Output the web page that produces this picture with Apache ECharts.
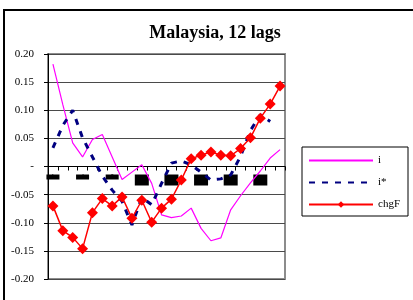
<!DOCTYPE html>
<html>
<head>
<meta charset="utf-8">
<script src="https://cdn.jsdelivr.net/npm/echarts@6/dist/echarts.min.js"></script>
<style>
  html, body { margin: 0; padding: 0; background: #fff; }
  #chart { width: 413px; height: 300px; }
</style>
</head>
<body>
<div id="chart"></div>
<script>
// lags 1..24
const lags = ['1', '2', '3', '4', '5', '6', '7', '8', '9', '10', '11', '12',
  '13', '14', '15', '16', '17', '18', '19', '20', '21', '22', '23', '24'];

const iVals = [0.182, 0.11, 0.042, 0.017, 0.048, 0.057, 0.017, -0.023, -0.01, 0.003, -0.03, -0.086,
  -0.091, -0.088, -0.074, -0.11, -0.132, -0.127, -0.077, -0.052, -0.029, -0.008, 0.015, 0.03];

const iStarVals = [0.033, 0.073, 0.10, 0.051, 0.017, -0.017, -0.042, -0.062, -0.104, -0.055, -0.068, -0.03,
  0.006, 0.010, 0.003, -0.010, -0.024, -0.022, -0.015, 0.018, 0.064, 0.092, 0.080, null];

const chgFVals = [-0.070, -0.114, -0.126, -0.146, -0.082, -0.057, -0.070, -0.054, -0.092, -0.060, -0.099, -0.074,
  -0.058, -0.024, 0.014, 0.020, 0.026, 0.020, 0.019, 0.032, 0.051, 0.086, 0.111, 0.143];

const serif = 'Liberation Serif';

var chart = echarts.init(document.getElementById('chart'));

chart.setOption({
  animation: false,
  backgroundColor: '#fff',
  title: {
    text: 'Malaysia, 12 lags',
    left: 210,
    top: 19,
    textAlign: 'center',
    textStyle: { fontFamily: serif, fontSize: 18, fontWeight: 'bold', color: '#000' }
  },
  graphic: [{
    type: 'rect',
    shape: { x: 4, y: 10, width: 430, height: 310 },
    style: { fill: 'none', stroke: '#000', lineWidth: 2 },
    silent: true
  }],
  legend: {
    orient: 'vertical',
    left: 302,
    top: 147,
    padding: [8, 8, 6, 6],
    itemWidth: 64,
    itemHeight: 8,
    itemGap: 11,
    borderColor: '#000',
    borderWidth: 1,
    textStyle: { fontFamily: serif, fontSize: 11, color: '#000' },
    data: [
      { name: 'i', itemStyle: { opacity: 0 } },
      { name: 'i*', itemStyle: { opacity: 0 } },
      'chgF'
    ]
  },
  grid: {
    left: 48, right: 128, top: 54, bottom: 21,
    show: true, borderColor: '#8c8c8c', borderWidth: 2
  },
  xAxis: {
    type: 'category',
    data: lags,
    boundaryGap: true,
    offset: -112.5,
    axisLine: { onZero: false, lineStyle: { color: '#000', width: 1 } },
    axisTick: { show: true, interval: 0, length: 4, lineStyle: { color: '#000' } },
    axisLabel: {
      interval: 2,
      margin: 8,
      color: '#000',
      formatter: function (v, idx) {
        return idx < 7 ? '{a|' + v + '}' : '{b|' + v + '}';
      },
      rich: {
        a: { backgroundColor: '#000', color: '#000', fontSize: 5, width: 13, height: 5, align: 'center' },
        b: { backgroundColor: '#000', color: '#000', fontSize: 10, width: 14, height: 11, align: 'center' }
      }
    },
    splitLine: { show: false }
  },
  yAxis: {
    type: 'value',
    min: -0.2,
    max: 0.2,
    interval: 0.05,
    axisLine: { show: true, lineStyle: { color: '#000', width: 1 } },
    axisTick: { show: true, length: 4, lineStyle: { color: '#000' } },
    axisLabel: {
      margin: 14,
      color: '#000',
      fontFamily: serif,
      fontSize: 11,
      formatter: function (v) {
        return Math.abs(v) < 1e-9 ? '-' : v.toFixed(2);
      }
    },
    splitLine: { show: true, lineStyle: { color: '#4a4a4a', width: 1 } }
  },
  series: [
    {
      name: 'i',
      type: 'line',
      data: iVals,
      symbol: 'none',
      lineStyle: { color: '#ff00ff', width: 1.2 },
      itemStyle: { color: '#ff00ff' }
    },
    {
      name: 'i*',
      type: 'line',
      data: iStarVals,
      symbol: 'none',
      lineStyle: { color: '#000080', width: 3, type: [6, 7] },
      itemStyle: { color: '#000080' }
    },
    {
      name: 'chgF',
      type: 'line',
      data: chgFVals,
      symbol: 'diamond',
      symbolSize: 11,
      showAllSymbol: true,
      lineStyle: { color: '#ff0000', width: 1.5 },
      itemStyle: { color: '#ff0000' }
    }
  ]
});
</script>
</body>
</html>
